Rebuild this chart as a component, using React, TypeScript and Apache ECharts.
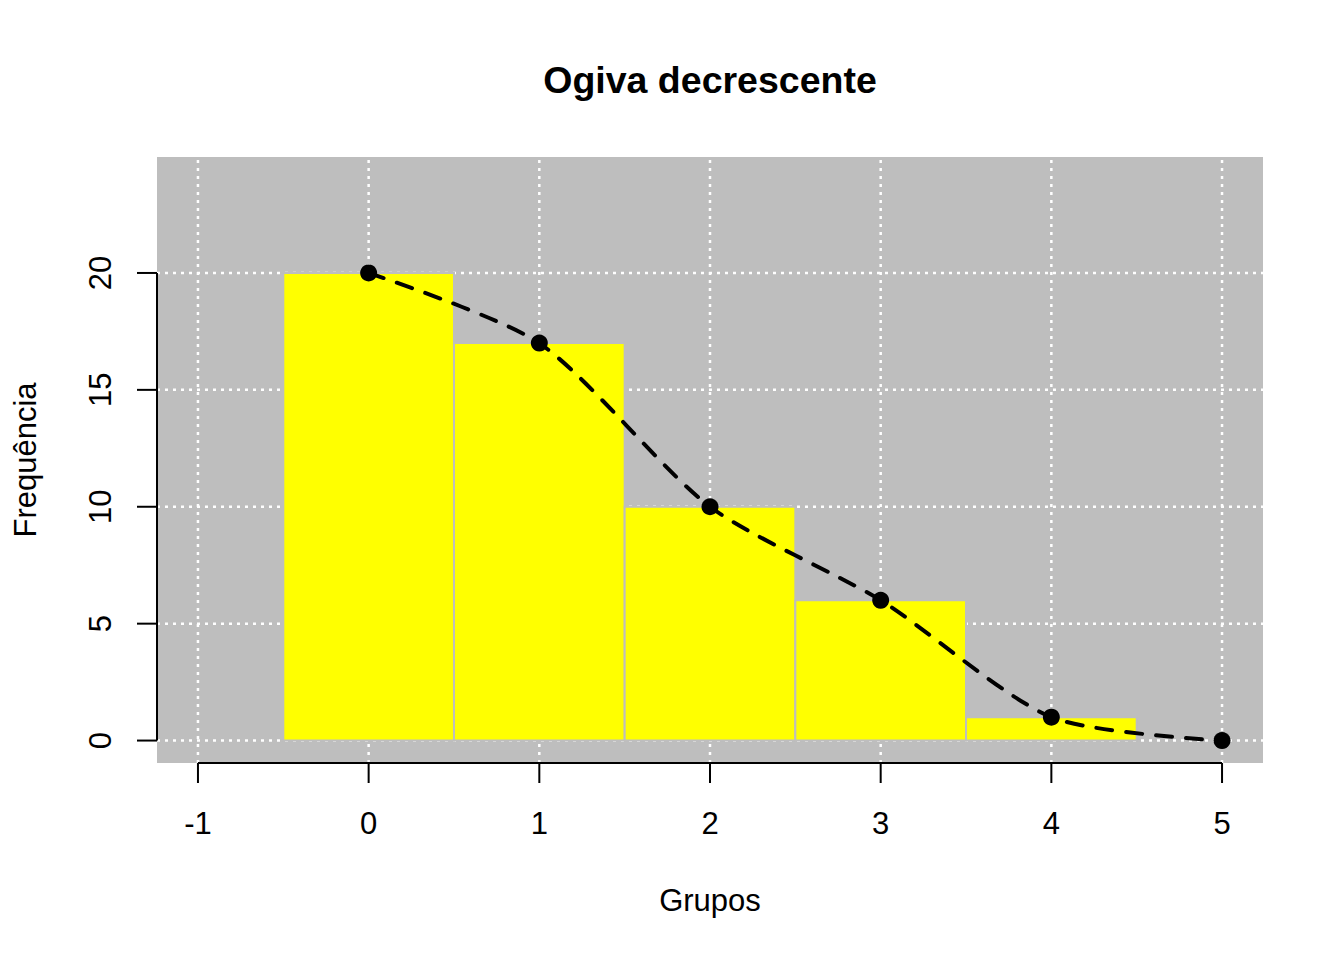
import React, { useEffect, useRef } from "react";
import * as echarts from "echarts";

const xTicks = [-1, 0, 1, 2, 3, 4, 5];
const yTicks = [0, 5, 10, 15, 20];
const binStarts = [-0.5, 0.5, 1.5, 2.5, 3.5];
const binEnds = [0.5, 1.5, 2.5, 3.5, 4.5];
const barHeights = [20, 17, 10, 6, 1];
const ogiveX = [0, 1, 2, 3, 4, 5];
const ogiveY = [20, 17, 10, 6, 1, 0];

const X_MIN = -1.24;
const X_MAX = 5.24;
const Y_MIN = -0.96;
const Y_MAX = 24.96;

const FONT = "'Liberation Sans', Arial, Helvetica, sans-serif";
const LABEL_SIZE = 31;

export default function App() {
  const ref = useRef<HTMLDivElement>(null);

  useEffect(() => {
    if (!ref.current) return;
    const chart = echarts.init(ref.current, null, { renderer: "svg" });

    const option: any = {
      animation: false,
      backgroundColor: "#ffffff",
      grid: {
        left: 157,
        top: 157,
        width: 1106,
        height: 606,
        show: true,
        backgroundColor: "#bebebe",
        borderWidth: 0,
      },
      xAxis: { type: "value", min: X_MIN, max: X_MAX, show: false },
      yAxis: { type: "value", min: Y_MIN, max: Y_MAX, show: false },
      graphic: [
        {
          type: "text",
          x: 710,
          y: 80,
          style: {
            text: "Ogiva decrescente",
            font: `bold 37.5px ${FONT}`,
            fill: "#000",
            align: "center",
            verticalAlign: "middle",
          },
        },
        {
          type: "text",
          x: 710,
          y: 900,
          style: {
            text: "Grupos",
            font: `${LABEL_SIZE}px ${FONT}`,
            fill: "#000",
            align: "center",
            verticalAlign: "middle",
          },
        },
        {
          type: "text",
          x: 25,
          y: 460,
          rotation: Math.PI / 2,
          style: {
            text: "Frequência",
            font: `${LABEL_SIZE}px ${FONT}`,
            fill: "#000",
            align: "center",
            verticalAlign: "middle",
          },
        },
      ],
      series: [
        {
          name: "vgrid",
          type: "custom",
          silent: true,
          data: xTicks.map((v) => [v, 0]),
          renderItem: (params: any, api: any) => {
            const v = api.value(0);
            const a = api.coord([v, Y_MIN]);
            const b = api.coord([v, Y_MAX]);
            return {
              type: "line",
              shape: { x1: a[0], y1: a[1], x2: b[0], y2: b[1] },
              style: { stroke: "#ffffff", lineWidth: 2.5, lineDash: [3, 5] },
            };
          },
        },
        {
          name: "hgrid",
          type: "custom",
          silent: true,
          data: yTicks.map((v) => [0, v]),
          renderItem: (params: any, api: any) => {
            const v = api.value(1);
            const a = api.coord([X_MIN, v]);
            const b = api.coord([X_MAX, v]);
            return {
              type: "line",
              shape: { x1: a[0], y1: a[1], x2: b[0], y2: b[1] },
              style: { stroke: "#ffffff", lineWidth: 2.5, lineDash: [3, 5] },
            };
          },
        },
        {
          name: "bars",
          type: "custom",
          data: barHeights.map((h, i) => [binStarts[i], binEnds[i], h]),
          encode: { x: [0, 1], y: 2 },
          renderItem: (params: any, api: any) => {
            const p0 = api.coord([api.value(0), api.value(2)]);
            const p1 = api.coord([api.value(1), 0]);
            return {
              type: "rect",
              shape: { x: p0[0], y: p0[1], width: p1[0] - p0[0], height: p1[1] - p0[1] },
              style: { fill: "#ffff00", stroke: "#bebebe", lineWidth: 2 },
            };
          },
        },
        {
          name: "ogiva",
          type: "line",
          data: ogiveX.map((x, i) => [x, ogiveY[i]]),
          smooth: 0.25,
          symbol: "circle",
          symbolSize: 17,
          itemStyle: { color: "#000" },
          lineStyle: { color: "#000", width: 4, type: [16, 14], cap: "round" },
          z: 5,
        },
        {
          name: "xaxisline",
          type: "custom",
          silent: true,
          data: [[xTicks[0], xTicks[xTicks.length - 1]]],
          renderItem: (params: any, api: any) => {
            const a = api.coord([api.value(0), Y_MIN]);
            const b = api.coord([api.value(1), Y_MIN]);
            return {
              type: "line",
              shape: { x1: a[0], y1: a[1], x2: b[0], y2: b[1] },
              style: { stroke: "#000", lineWidth: 2 },
            };
          },
          z: 6,
        },
        {
          name: "yaxisline",
          type: "custom",
          silent: true,
          data: [[yTicks[0], yTicks[yTicks.length - 1]]],
          renderItem: (params: any, api: any) => {
            const a = api.coord([X_MIN, api.value(0)]);
            const b = api.coord([X_MIN, api.value(1)]);
            return {
              type: "line",
              shape: { x1: a[0], y1: a[1], x2: b[0], y2: b[1] },
              style: { stroke: "#000", lineWidth: 2 },
            };
          },
          z: 6,
        },
        {
          name: "xticks",
          type: "custom",
          silent: true,
          data: xTicks.map((v) => [v, Y_MIN]),
          renderItem: (params: any, api: any) => {
            const v = api.value(0);
            const p = api.coord([v, Y_MIN]);
            return {
              type: "group",
              children: [
                {
                  type: "line",
                  shape: { x1: p[0], y1: p[1], x2: p[0], y2: p[1] + 20 },
                  style: { stroke: "#000", lineWidth: 2 },
                },
                {
                  type: "text",
                  x: p[0],
                  y: p[1] + 60,
                  style: {
                    text: String(v),
                    font: `${LABEL_SIZE}px ${FONT}`,
                    fill: "#000",
                    align: "center",
                    verticalAlign: "middle",
                  },
                },
              ],
            };
          },
          z: 6,
        },
        {
          name: "yticks",
          type: "custom",
          silent: true,
          data: yTicks.map((v) => [X_MIN, v]),
          renderItem: (params: any, api: any) => {
            const v = api.value(1);
            const p = api.coord([X_MIN, v]);
            return {
              type: "group",
              children: [
                {
                  type: "line",
                  shape: { x1: p[0] - 20, y1: p[1], x2: p[0], y2: p[1] },
                  style: { stroke: "#000", lineWidth: 2 },
                },
                {
                  type: "text",
                  x: p[0] - 57,
                  y: p[1],
                  rotation: Math.PI / 2,
                  style: {
                    text: String(v),
                    font: `${LABEL_SIZE}px ${FONT}`,
                    fill: "#000",
                    align: "center",
                    verticalAlign: "middle",
                  },
                },
              ],
            };
          },
          z: 6,
        },
      ],
    };

    chart.setOption(option);
    return () => chart.dispose();
  }, []);

  return (
    <div
      ref={ref}
      style={{ position: "absolute", left: 0, top: 0, width: 1344, height: 960 }}
    />
  );
}
